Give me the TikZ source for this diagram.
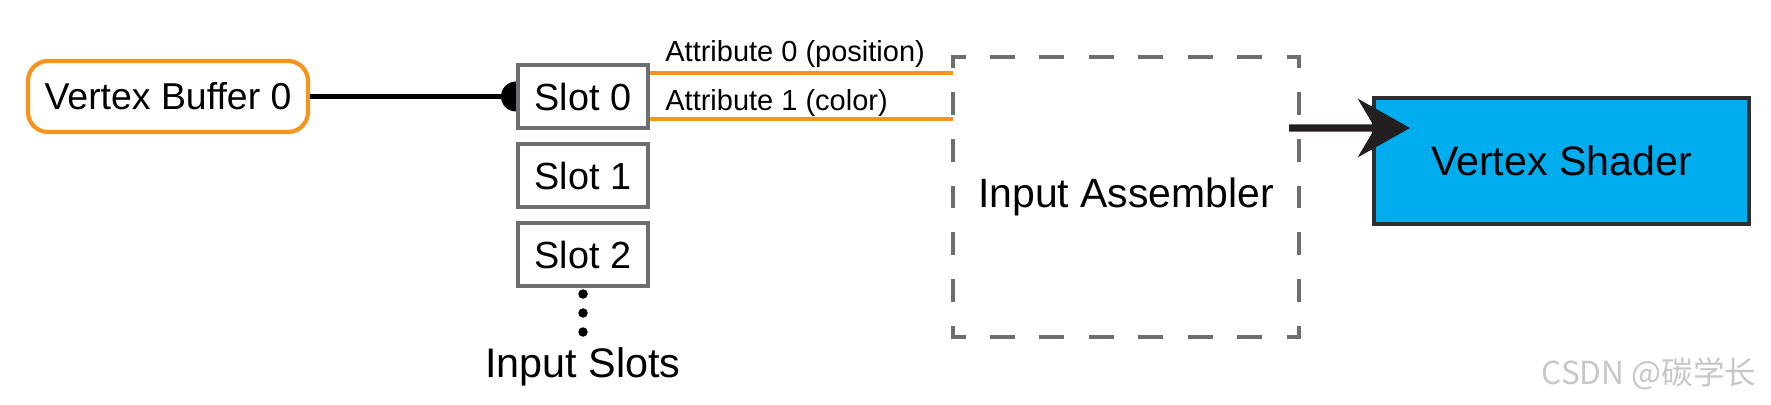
\documentclass[tikz,border=0pt]{standalone}
\usepackage{fontspec}
\setmainfont{Liberation Sans}
\newfontfamily\cjkfont{Noto Sans CJK SC}
\usepackage{xcolor}
\usepackage{tikz}
\usetikzlibrary{arrows.meta,positioning,calc}
\definecolor{bufOrange}{HTML}{F7941D}
\definecolor{slotGray}{HTML}{6D6E71}
\definecolor{shaderBlue}{HTML}{00AEEF}
\definecolor{tipBlack}{HTML}{231F20}
\newcommand{\fsz}[1]{\fontsize{#1}{#1}\selectfont}

\begin{document}
\begin{tikzpicture}[x=1cm,y=1cm,
  slotbox/.style={draw=slotGray, line width=2.3pt, minimum width=2.6cm, minimum height=1.26cm, inner sep=0pt, font=\fsz{21.5}},
  attrline/.style={draw=bufOrange, line width=2.2pt},
  attrlabel/.style={inner sep=0pt, font=\fsz{16.5}},
  iahside/.style={draw=slotGray, line width=2.3pt, line cap=rect, dash pattern=on 0.42cm off 0.569cm, dash phase=0.21cm},
  iavside/.style={draw=slotGray, line width=2.3pt, line cap=rect, dash pattern=on 0.37cm off 0.563cm, dash phase=0.185cm}]
\useasboundingbox (0,0) rectangle (35.42,8.08);
\node[draw=bufOrange, line width=2.4pt, rounded corners=0.4cm, minimum width=5.6cm, minimum height=1.42cm, font=\fsz{21.3}] (vb) at (3.36,6.15) {Vertex Buffer 0};
\node[slotbox] (slot0) at (11.66,6.15) {Slot 0};
\node[slotbox, below=0.24cm of slot0] (slot1) {Slot 1};
\node[slotbox, below=0.24cm of slot1] (slot2) {Slot 2};
\foreach \y in {2.2,1.82,1.44}
  \fill (slot0.center |- 0,\y) circle (0.095);
\node[font=\fsz{23.5}] (slotslbl) at (11.66,0.74) {Input Slots};
% buffer bound to slot 0
\draw[line width=2.6pt] (vb) -- (slot0);
\fill (slot0.west) ++(0,0.3) arc[start angle=90, end angle=270, radius=0.3] -- cycle;
% input assembler
\node[minimum width=6.92cm, minimum height=5.6cm, outer sep=0pt, font=\fsz{23.3}] (ia) at (22.52,4.14) {Input Assembler};
\draw[iahside] (ia.north west) -- (ia.north east);
\draw[iahside] (ia.south west) -- (ia.south east);
\draw[iavside] (ia.north west) -- (ia.south west);
\draw[iavside] (ia.north east) -- (ia.south east);
% attributes
\coordinate (a0) at ([yshift=0.47cm]slot0.east);
\coordinate (a1) at ([yshift=-0.45cm]slot0.east);
\draw[attrline] (a0) -- (a0 -| ia.west);
\draw[attrline] (a1) -- (a1 -| ia.west);
\node[attrlabel, anchor=base west] (a0lbl) at ([xshift=0.3cm,yshift=0.22cm]a0) {Attribute 0 (position)};
\node[attrlabel, anchor=base west] (a1lbl) at ([xshift=0.3cm,yshift=0.16cm]a1) {Attribute 1 (color)};
% vertex shader
\node[draw=black!82, fill=shaderBlue, line width=2.2pt, minimum width=7.5cm, minimum height=2.52cm, font=\fsz{23.4}] (vs) at (31.23,4.86) {Vertex Shader};
\coordinate (iaout) at ($(ia.north east)+(-0.2,-1.42)$);
\coordinate (vsin) at ($(vs.west)+(0.76,0.66)$);
\draw[tipBlack, line width=4pt, -{Stealth[length=1.04cm, width=1.16cm, inset=0.34cm]}] (iaout) -- (vsin);
\node[text=black!22, font=\cjkfont\fsz{18}] (mark) at (32.98,0.6) {CSDN @碳学长};
\end{tikzpicture}
\end{document}
